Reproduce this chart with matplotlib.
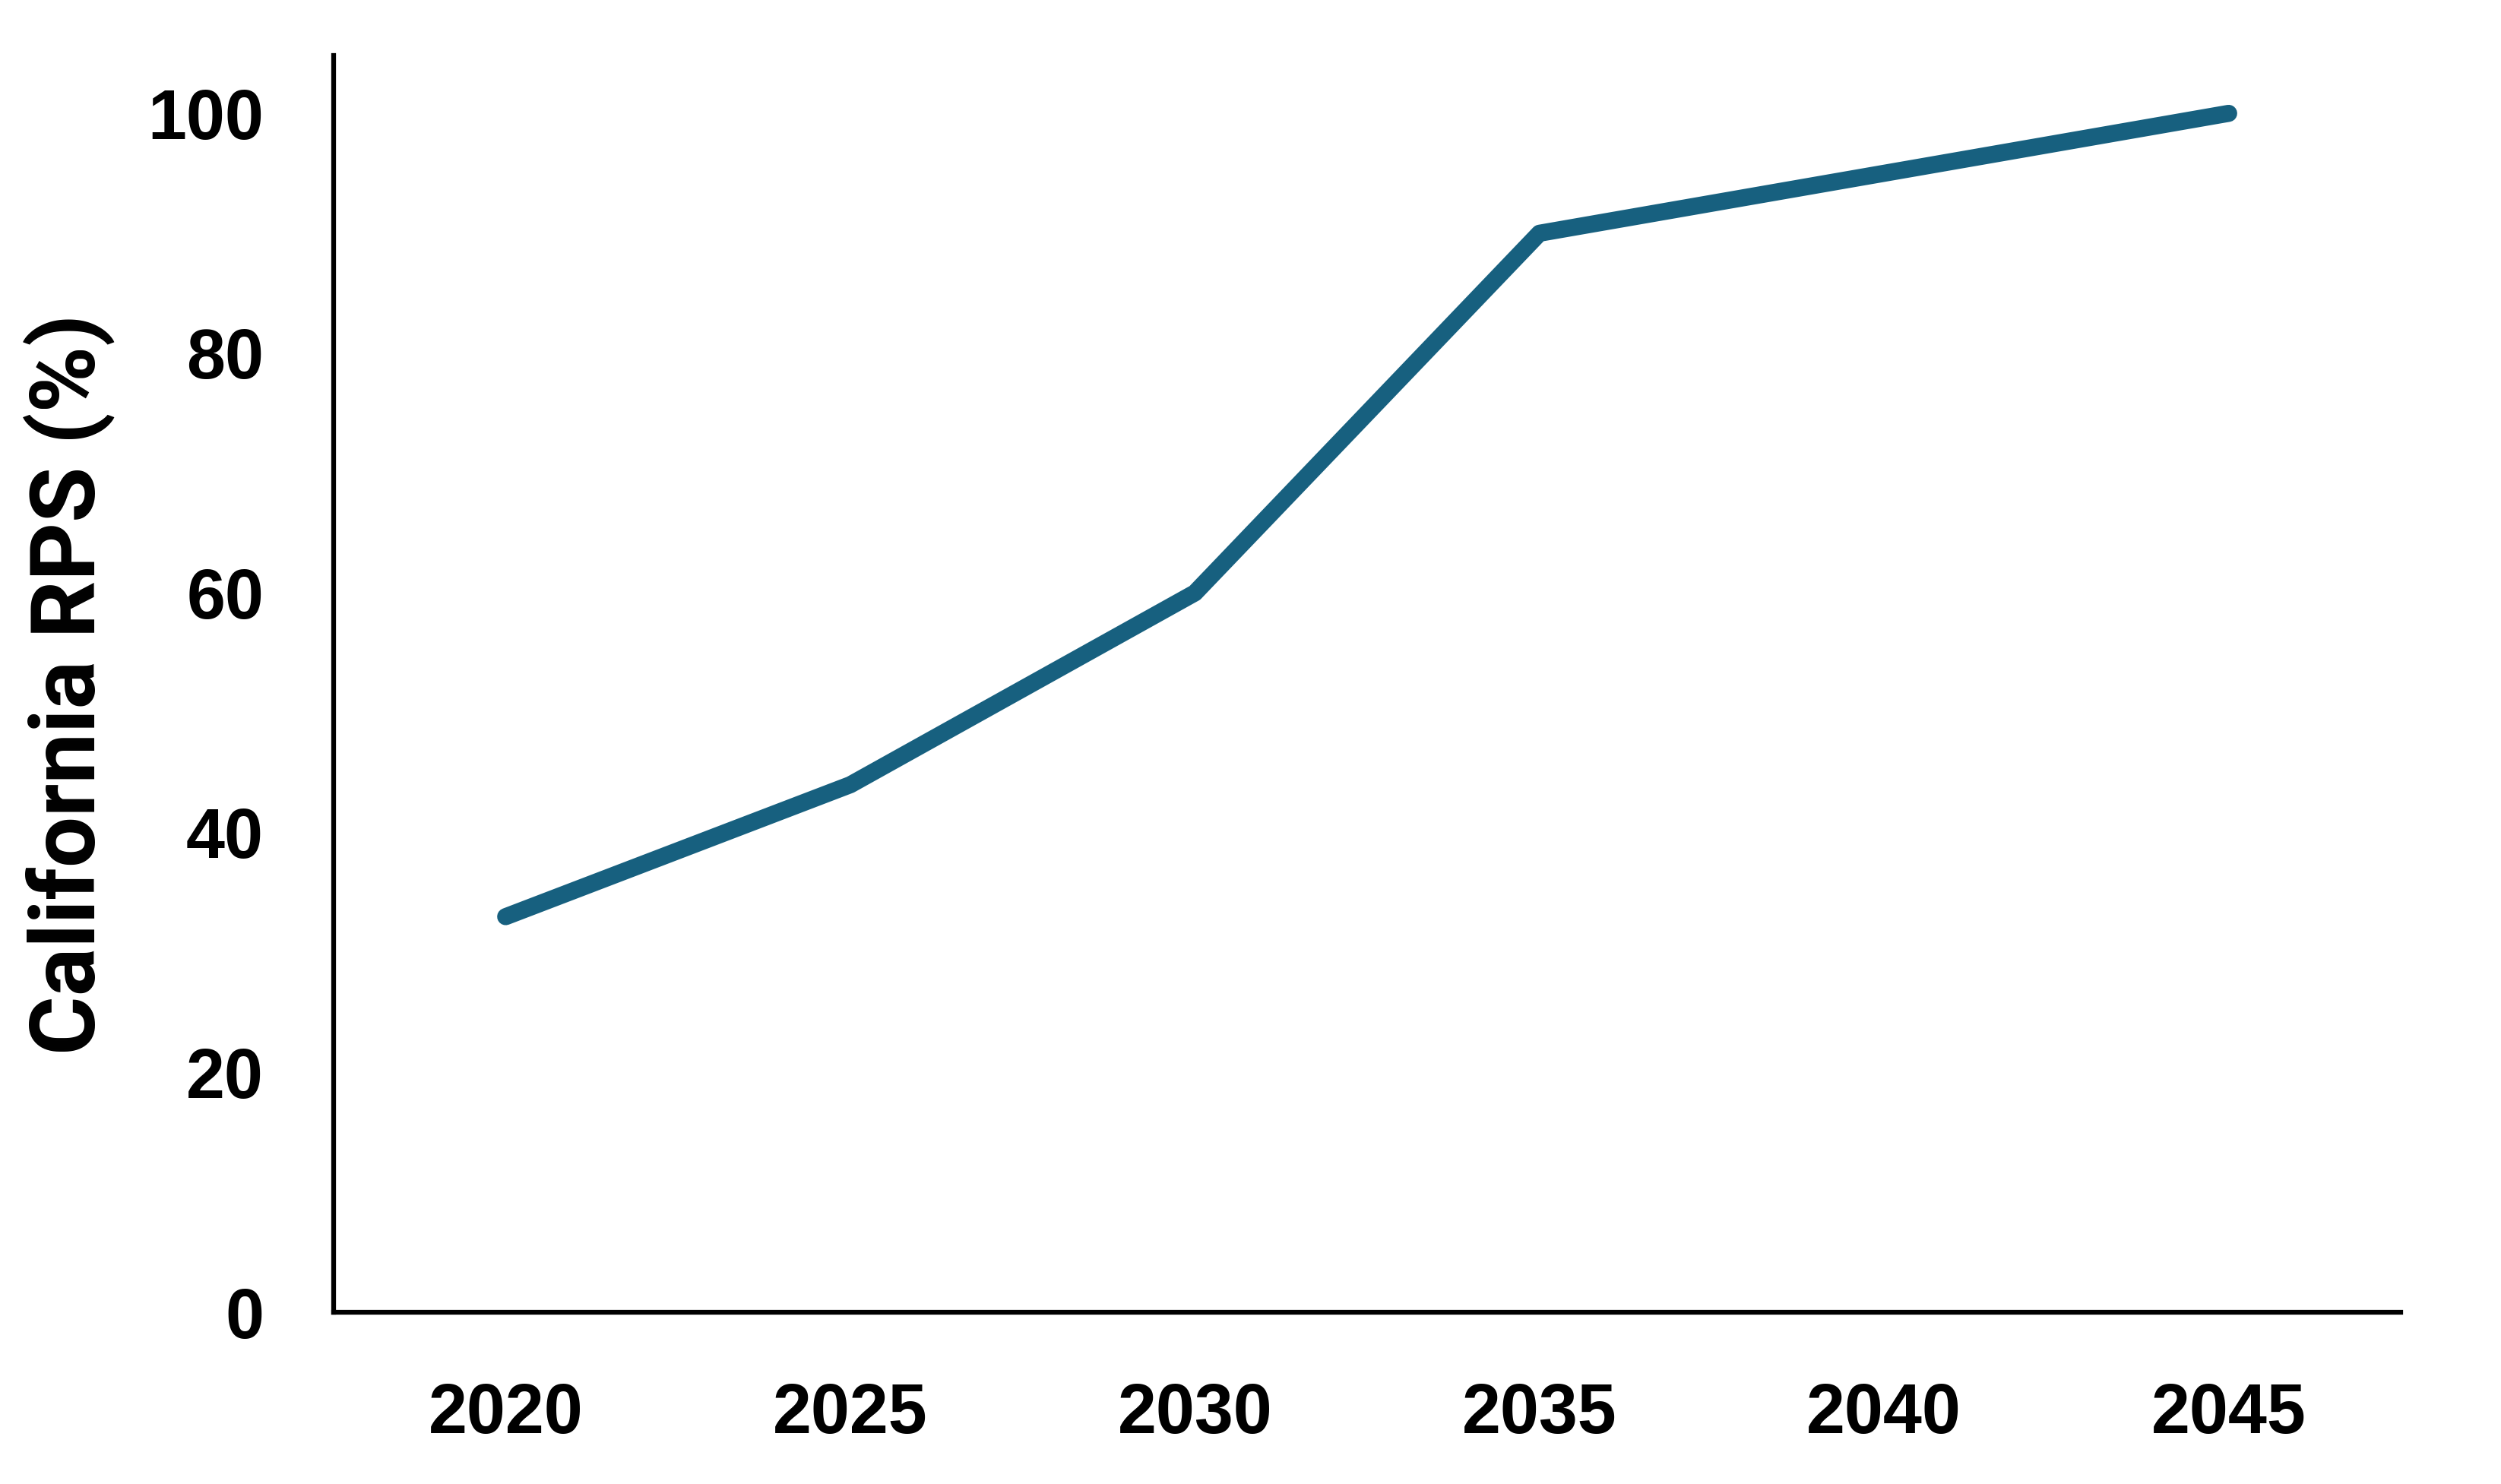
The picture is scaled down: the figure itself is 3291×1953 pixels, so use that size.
import matplotlib.pyplot as plt

years = ["2020", "2025", "2030", "2035", "2040", "2045"]
rps_pct = [33, 44, 60, 90, 95, 100]
y_ticks = [0, 20, 40, 60, 80, 100]

LINE_COLOR = "#17607f"

fig = plt.figure(figsize=(3291 / 300, 1953 / 300), dpi=300)
ax = fig.add_axes([0.1333, 0.1157, 0.8267, 0.8467])

x = list(range(len(years)))
ax.plot(x, rps_pct, color=LINE_COLOR, linewidth=5.4, solid_capstyle="round", solid_joinstyle="round")

ax.set_xlim(-0.5, len(years) - 0.5)
ax.set_ylim(0, 104.8)
ax.set_xticks(x, years)
ax.set_yticks(y_ticks)
ax.tick_params(length=0, pad=22, labelsize=22)
for label in ax.get_xticklabels() + ax.get_yticklabels():
    label.set_fontfamily("Liberation Sans")
    label.set_fontweight("bold")

ax.set_ylabel("California RPS (%)", fontsize=28.5, fontweight="bold", family="Roboto", labelpad=10)

for side in ("top", "right"):
    ax.spines[side].set_visible(False)
for side in ("left", "bottom"):
    ax.spines[side].set_linewidth(1.5)
    ax.spines[side].set_color("black")

fig.savefig("out.png", dpi=300)
